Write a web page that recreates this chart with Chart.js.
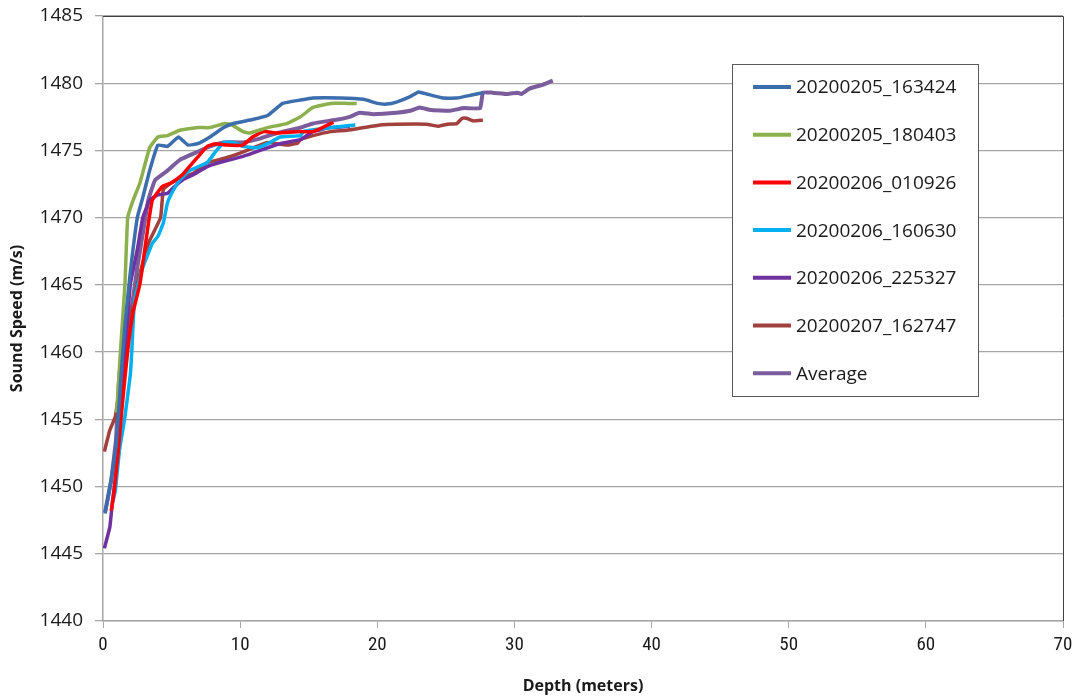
<!DOCTYPE html>
<html>
<head>
<meta charset="utf-8">
<script src="https://cdn.jsdelivr.net/npm/chart.js@4"></script>
<style>
  html, body { margin: 0; padding: 0; background: #fff; }
  #wrap { width: 1076px; height: 700px; }
</style>
</head>
<body>
<div id="wrap"><canvas id="soundChart" width="1076" height="700"></canvas></div>
<script>
// Depth (m) and sound speed (m/s)
const labels = ['20200205_163424', '20200205_180403', '20200206_010926', '20200206_160630', '20200206_225327', '20200207_162747', 'Average'];
const colors = ['#3C6DAC', '#8DB04F', '#FF0000', '#00B0F0', '#7030A0', '#A2403D', '#7B5C9C'];

const depth1 = [0.15, 0.6, 1.0, 1.3, 1.6, 2.0, 2.5, 2.9, 3.4, 4.0, 4.7, 5.5, 6.2, 6.9, 7.8, 8.8, 9.5, 10.9, 12.0, 13.1, 14.4, 15.3, 17.3, 19.0, 20.0, 20.7, 21.4, 22.4, 23.0, 23.6, 24.8, 25.8, 26.8, 27.7];
const speed1 = [1448.0, 1450.5, 1453.5, 1458.0, 1462.0, 1466.0, 1470.0, 1471.5, 1473.5, 1475.4, 1475.3, 1476.0, 1475.4, 1475.5, 1476.0, 1476.7, 1477.0, 1477.3, 1477.6, 1478.5, 1478.75, 1478.9, 1478.9, 1478.8, 1478.5, 1478.45, 1478.6, 1479.0, 1479.35, 1479.2, 1478.9, 1478.9, 1479.1, 1479.3];

const depth2 = [1.0, 1.3, 1.6, 1.8, 2.2, 2.7, 3.4, 4.0, 4.7, 5.6, 6.9, 7.8, 8.9, 9.4, 10.2, 10.7, 12.0, 13.4, 14.4, 15.3, 16.6, 17.8, 18.5];
const speed2 = [1455.5, 1460.5, 1465.0, 1470.0, 1471.3, 1472.6, 1475.2, 1476.0, 1476.1, 1476.5, 1476.7, 1476.7, 1477.0, 1476.9, 1476.4, 1476.3, 1476.7, 1477.0, 1477.5, 1478.2, 1478.5, 1478.5, 1478.5];

const depth3 = [0.6, 0.8, 1.1, 1.4, 1.8, 2.2, 2.7, 3.3, 3.6, 4.3, 5.0, 5.8, 6.3, 6.9, 7.6, 8.2, 9.0, 10.2, 10.9, 11.7, 12.7, 14.4, 15.3, 16.0, 16.8];
const speed3 = [1448.2, 1449.5, 1452.5, 1456.0, 1460.1, 1463.0, 1465.1, 1469.5, 1471.3, 1472.3, 1472.6, 1473.2, 1473.8, 1474.5, 1475.3, 1475.5, 1475.4, 1475.4, 1476.0, 1476.4, 1476.3, 1476.4, 1476.4, 1476.7, 1477.1];

const depth4 = [0.7, 0.9, 1.2, 1.6, 2.0, 2.1, 2.3, 2.9, 3.6, 4.0, 4.4, 4.7, 5.0, 5.6, 6.3, 7.6, 8.2, 8.8, 9.5, 10.2, 11.2, 12.2, 12.9, 14.4, 14.6, 16.6, 18.4];
const speed4 = [1448.8, 1449.7, 1452.7, 1455.2, 1458.4, 1460.1, 1463.9, 1466.3, 1468.1, 1468.6, 1469.6, 1471.1, 1471.8, 1472.8, 1473.5, 1474.1, 1474.9, 1475.6, 1475.6, 1475.3, 1475.2, 1475.6, 1476.0, 1476.1, 1476.4, 1476.7, 1476.9];

const depth5 = [0.1, 0.5, 0.7, 0.95, 1.3, 1.6, 2.0, 2.5, 2.9, 3.4, 4.0, 4.7, 5.1, 5.8, 6.6, 7.6, 8.5, 10.0, 10.9, 12.0, 13.1, 14.4, 15.3, 16.6, 18.0];
const speed5 = [1445.4, 1447.0, 1449.0, 1451.0, 1456.0, 1460.1, 1465.1, 1467.6, 1470.0, 1471.3, 1471.7, 1471.8, 1472.2, 1472.8, 1473.2, 1473.8, 1474.1, 1474.5, 1474.8, 1475.2, 1475.55, 1475.8, 1476.4, 1476.7, 1476.8];

const depth6 = [0.1, 0.5, 0.9, 1.3, 1.8, 2.5, 3.0, 3.4, 4.2, 4.4, 5.0, 5.8, 6.6, 7.6, 8.8, 10.0, 11.2, 12.0, 12.7, 13.4, 14.2, 14.4, 15.3, 16.6, 17.8, 19.0, 20.2, 21.4, 23.6, 24.4, 25.1, 25.8, 26.2, 26.5, 27.0, 27.7];
const speed6 = [1452.6, 1454.2, 1455.2, 1458.0, 1461.5, 1465.0, 1467.0, 1468.3, 1470.0, 1472.1, 1472.6, 1473.0, 1473.3, 1474.1, 1474.4, 1474.8, 1475.3, 1475.6, 1475.5, 1475.4, 1475.55, 1475.8, 1476.1, 1476.4, 1476.5, 1476.7, 1476.9, 1476.95, 1476.95, 1476.8, 1476.95, 1477.0, 1477.4, 1477.4, 1477.2, 1477.25];

const depthAvg = [0.15, 0.6, 0.95, 1.2, 2.0, 2.5, 2.9, 3.3, 3.8, 4.7, 5.6, 6.9, 7.8, 8.8, 10.2, 11.5, 12.7, 14.4, 15.3, 17.1, 18.0, 18.7, 19.7, 21.4, 22.4, 23.1, 23.9, 25.3, 26.3, 27.5, 27.7, 28.4, 29.5, 30.2, 30.5, 31.1, 32.1, 32.8];
const speedAvg = [1448.1, 1450.5, 1453.5, 1458.4, 1462.6, 1466.3, 1468.8, 1471.3, 1472.8, 1473.5, 1474.3, 1474.9, 1475.3, 1475.6, 1475.6, 1475.9, 1476.3, 1476.7, 1477.0, 1477.3, 1477.5, 1477.8, 1477.7, 1477.8, 1477.95, 1478.2, 1478.0, 1477.95, 1478.15, 1478.15, 1479.3, 1479.3, 1479.2, 1479.3, 1479.2, 1479.6, 1479.9, 1480.2];

const depths = [depth1, depth2, depth3, depth4, depth5, depth6, depthAvg];
const speeds = [speed1, speed2, speed3, speed4, speed5, speed6, speedAvg];

const xTicks = [0, 10, 20, 30, 40, 50, 60, 70];
const yTicks = [1440, 1445, 1450, 1455, 1460, 1465, 1470, 1475, 1480, 1485];

function toPoints(xs, ys) {
    return xs.map((x, i) => ({ x: x, y: ys[i] }));
}

const datasets = labels.map((label, i) => ({
    label: label,
    data: toPoints(depths[i], speeds[i]),
    borderColor: colors[i],
    backgroundColor: colors[i],
    borderWidth: i === 6 ? 4 : 3.5,
    pointRadius: 0,
    showLine: true,
    tension: 0.1,
    fill: false
}));

// legend box drawn inside the plot, plus the dark top/right frame
const boxPlugin = {
    id: 'boxPlugin',
    afterDraw(chart) {
        const ctx = chart.ctx;
        const area = chart.chartArea;
        ctx.save();
        ctx.strokeStyle = '#404040';
        ctx.lineWidth = 1;
        ctx.beginPath();
        ctx.moveTo(area.left, area.top + 0.5);
        ctx.lineTo(area.right + 0.5, area.top + 0.5);
        ctx.lineTo(area.right + 0.5, area.bottom);
        ctx.stroke();

        const bx = 732.5, by = 64.5, bw = 246, bh = 332;
        ctx.fillStyle = '#fff';
        ctx.fillRect(bx, by, bw, bh);
        ctx.strokeStyle = '#595959';
        ctx.strokeRect(bx, by, bw, bh);
        ctx.font = '19px "Open Sans", sans-serif';
        ctx.textBaseline = 'middle';
        chart.data.datasets.forEach((ds, i) => {
            const y = 87 + i * 47.7;
            ctx.strokeStyle = ds.borderColor;
            ctx.lineWidth = 4;
            ctx.beginPath();
            ctx.moveTo(753, y);
            ctx.lineTo(791, y);
            ctx.stroke();
            ctx.fillStyle = '#1a1a1a';
            ctx.fillText(ds.label, 796, y + 1);
        });
        ctx.restore();
    }
};

const ctx = document.getElementById('soundChart').getContext('2d');
new Chart(ctx, {
    type: 'scatter',
    data: { datasets: datasets },
    options: {
        responsive: false,
        animation: false,
        layout: { padding: { top: 16, right: 13, left: 0, bottom: 0 } },
        plugins: {
            legend: { display: false },
            tooltip: { enabled: false }
        },
        scales: {
            x: {
                type: 'linear',
                min: 0,
                max: 70,
                afterBuildTicks: (scale) => { scale.ticks = xTicks.map(v => ({ value: v })); },
                afterFit: (scale) => { scale.height = 79; scale.paddingRight = 0; },
                ticks: {
                    color: '#1a1a1a',
                    font: { family: '"Liberation Sans Narrow", "Roboto Condensed", "Open Sans", sans-serif', size: 19 },
                    padding: 6,
                    maxRotation: 0,
                    callback: (v) => String(v)
                },
                grid: { drawOnChartArea: false, drawTicks: true, tickLength: 7, color: '#A6A6A6' },
                border: { color: '#A6A6A6', width: 1.5 },
                title: {
                    display: true,
                    text: 'Depth (meters)',
                    color: '#1a1a1a',
                    font: { family: '"Open Sans", sans-serif', size: 16, weight: 'bold' },
                    padding: { top: 2 }
                }
            },
            y: {
                type: 'linear',
                min: 1440,
                max: 1485,
                afterBuildTicks: (scale) => { scale.ticks = yTicks.map(v => ({ value: v })); },
                afterFit: (scale) => { scale.width = 103; scale.paddingTop = 0; scale.paddingBottom = 0; },
                ticks: {
                    color: '#1a1a1a',
                    font: { family: '"Open Sans", sans-serif', size: 19 },
                    padding: 12,
                    callback: (v) => String(v)
                },
                grid: { color: '#A6A6A6', lineWidth: 1.3, tickLength: 8 },
                border: { color: '#A6A6A6', width: 1.5 },
                title: {
                    display: true,
                    text: 'Sound Speed (m/s)',
                    color: '#1a1a1a',
                    font: { family: '"Open Sans", sans-serif', size: 16, weight: 'bold' },
                    padding: { top: 8, bottom: 0 }
                }
            }
        }
    },
    plugins: [boxPlugin]
});
</script>
</body>
</html>
